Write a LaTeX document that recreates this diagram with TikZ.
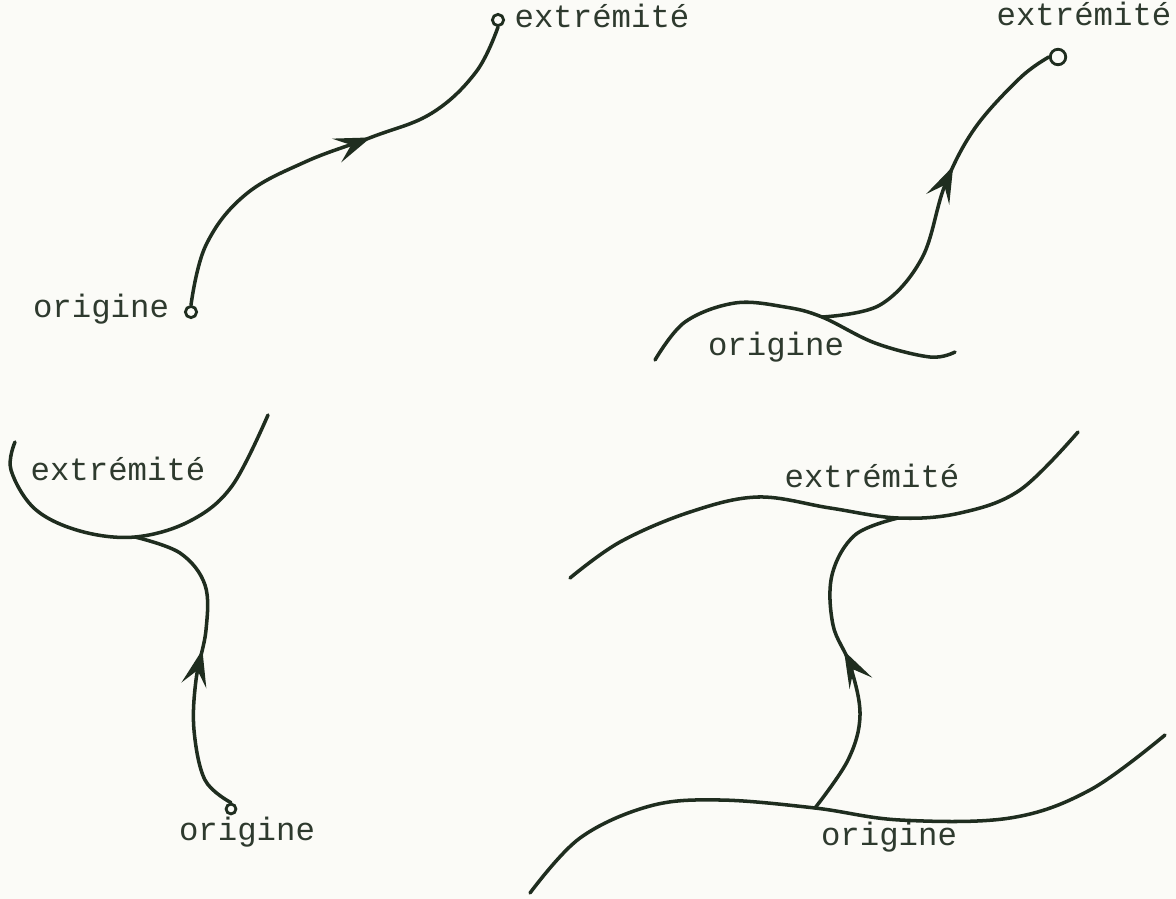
\documentclass[tikz,border=0pt]{standalone}
\usepackage{fontspec}
\setmainfont{Liberation Mono}
\usetikzlibrary{arrows.meta,decorations.markings}
\definecolor{ink}{HTML}{1F2D1F}
\definecolor{txt}{HTML}{2E3A2E}
\definecolor{paper}{HTML}{FBFBF7}
\begin{document}
\begin{tikzpicture}[x=0.025cm,y=-0.025cm,
  curve/.style={color=ink, draw, line width=2.5pt, line cap=round, line join=round},
  lab/.style={text=txt, font=\fontsize{23}{26}\selectfont, inner sep=0pt, anchor=base},
  endpt/.style={circle, draw=ink, line width=2pt, inner sep=0pt, minimum size=#1},
  midarrow/.style={postaction={decorate}, decoration={markings,
      mark=at position #1 with {\arrow{Stealth[length=26pt,width=18pt,inset=11pt]}}}}
]
\fill[paper] (0,0) rectangle (1176,899);
\useasboundingbox (0,0) rectangle (1176,899);

% ---------- panel 1 ----------
\node[endpt=8pt] (o1) at (191,312) {};
\node[endpt=8pt] (e1) at (498,20) {};
\node[lab] (o1lab) at (101,317) {origine};
\node[lab] (e1lab) at (602,28) {extrémité};
\draw[curve, midarrow=0.6] plot[smooth, tension=0.65] coordinates
  {(o1.north) (206,245) (245,195) (305,162) (372,137) (432,113) (476,72) (e1.south)};

% ---------- panel 2 ----------
\node[endpt=11pt] (e2) at (1058,57) {};
\node[lab] (e2lab) at (1084,26) {extrémité};
\node[lab] (o2lab) at (776,355) {origine};
\coordinate (c2) at (822,317);
\coordinate (s2a) at (655,360);
\coordinate (s2b) at (955,352);
\draw[curve] plot[smooth, tension=0.6] coordinates
  {(s2a) (685,322) (735,303) (785,307) (c2) (875,343) (930,357) (s2b)};
\draw[curve, midarrow=0.6] plot[smooth, tension=0.6] coordinates
  {(c2) (880,305) (922,258) (945,185) (975,128) (1020,78) (e2.west)};

% ---------- panel 3 ----------
\node[endpt=7pt] (o3) at (231,809) {};
\node[lab] (o3lab) at (247,840) {origine};
\node[lab] (e3lab) at (118,480) {extrémité};
\coordinate (c3) at (135,537);
\coordinate (s3a) at (15,442);
\coordinate (s3b) at (268,415);
\draw[curve] plot[smooth, tension=0.6] coordinates
  {(s3a) (11,470) (35,509) (80,531) (c3) (190,521) (232,486) (s3b)};
\draw[curve, midarrow=0.52] plot[smooth, tension=0.6] coordinates
  {(o3.north) (205,780) (194,730) (196,680) (206,630) (205,585) (180,553) (c3)};

% ---------- panel 4 ----------
\node[lab] (e4lab) at (872,487) {extrémité};
\node[lab] (o4lab) at (889,845) {origine};
\coordinate (c4t) at (898,518);
\coordinate (c4b) at (815,808);
\coordinate (s4a) at (570,578);
\coordinate (s4b) at (1078,432);
\coordinate (s4c) at (530,893);
\coordinate (s4d) at (1165,735);
\draw[curve] plot[smooth, tension=0.6] coordinates
  {(s4a) (620,542) (690,512) (758,497) (830,508) (c4t) (960,513) (1020,490) (s4b)};
\draw[curve] plot[smooth, tension=0.6] coordinates
  {(s4c) (580,838) (650,806) (720,800) (c4b) (900,820) (1010,818) (1090,790) (s4d)};
\draw[curve, midarrow=0.5] plot[smooth, tension=0.6] coordinates
  {(c4b) (848,760) (860,715) (850,665) (833,625) (832,575) (855,535) (c4t)};
\end{tikzpicture}
\end{document}
